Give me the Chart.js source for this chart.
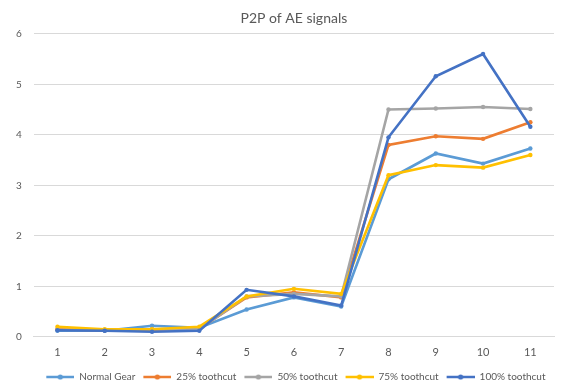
<!DOCTYPE html>
<html>
<head>
<meta charset="utf-8">
<script src="https://cdn.jsdelivr.net/npm/chart.js@4/dist/chart.umd.min.js"></script>
<style>
  html, body { margin: 0; padding: 0; background: #fff; }
  #wrap { width: 567px; height: 392px; }
</style>
</head>
<body>
<div id="wrap"><canvas id="c" width="567" height="392"></canvas></div>
<script>
// Sample index along the x axis
const categories = ['1', '2', '3', '4', '5', '6', '7', '8', '9', '10', '11'];

// Peak-to-peak AE signal values per gear condition
const normalGear = [0.12, 0.12, 0.22, 0.18, 0.54, 0.78, 0.60, 3.12, 3.63, 3.43, 3.73];
const cut25      = [0.15, 0.13, 0.14, 0.16, 0.78, 0.88, 0.78, 3.80, 3.97, 3.92, 4.25];
const cut50      = [0.14, 0.13, 0.15, 0.15, 0.80, 0.85, 0.80, 4.50, 4.52, 4.55, 4.51];
const cut75      = [0.20, 0.15, 0.15, 0.20, 0.80, 0.95, 0.85, 3.20, 3.40, 3.35, 3.60];
const cut100     = [0.13, 0.12, 0.10, 0.12, 0.93, 0.80, 0.62, 3.95, 5.16, 5.60, 4.16];

const seriesNames = ['Normal Gear', '25% toothcut', '50% toothcut', '75% toothcut', '100% toothcut'];
const yTicks = [0, 1, 2, 3, 4, 5, 6];

const colors = ['#5B9BD5', '#ED7D31', '#A5A5A5', '#FFC000', '#4472C4'];
const values = [normalGear, cut25, cut50, cut75, cut100];

// Legend swatch: short line with a dot in the middle, with a little blank lead-in
const SWATCH_W = 32, LEAD = 4;
function swatch(color) {
  const c = document.createElement('canvas');
  c.width = SWATCH_W; c.height = 8;
  const g = c.getContext('2d');
  g.strokeStyle = color; g.lineWidth = 2.5;
  g.beginPath(); g.moveTo(LEAD, 4); g.lineTo(SWATCH_W, 4); g.stroke();
  g.fillStyle = color;
  g.beginPath(); g.arc((LEAD + SWATCH_W) / 2, 4, 2.6, 0, Math.PI * 2); g.fill();
  return c;
}

const datasets = values.map((v, i) => ({
  label: seriesNames[i],
  data: v,
  borderColor: colors[i],
  backgroundColor: colors[i],
  borderWidth: 2.6,
  pointRadius: 2.2,
  pointBorderWidth: 0,
  pointStyle: 'circle',
  tension: 0,
  fill: false,
  order: values.length - 1 - i,
  legendSwatch: swatch(colors[i])
}));

const font = "Lato, 'Open Sans', 'Liberation Sans', sans-serif";

new Chart(document.getElementById('c'), {
  type: 'line',
  data: { labels: categories, datasets },
  options: {
    responsive: false,
    animation: false,
    devicePixelRatio: 1,
    layout: { padding: { left: 4, right: 13, top: 6, bottom: 0 } },
    plugins: {
      title: {
        display: true,
        fullSize: false,
        text: 'P2P of AE signals',
        color: '#595959',
        font: { family: font, size: 14, weight: 'normal' },
        padding: { top: 4, bottom: 7 }
      },
      legend: {
        position: 'bottom',
        fullSize: false,
        labels: {
          color: '#595959',
          font: { family: font, size: 10 },
          usePointStyle: true,
          pointStyleWidth: SWATCH_W,
          boxHeight: 8,
          padding: 4,
          sort: (a, b) => a.datasetIndex - b.datasetIndex,
          generateLabels: (chart) => chart.data.datasets.map((ds, i) => ({
            text: ds.label,
            fillStyle: ds.borderColor,
            strokeStyle: ds.borderColor,
            lineWidth: 0,
            pointStyle: ds.legendSwatch,
            fontColor: '#595959',
            hidden: !chart.isDatasetVisible(i),
            datasetIndex: i
          }))
        }
      },
      tooltip: { enabled: false }
    },
    scales: {
      x: {
        offset: true,
        grid: { display: false, drawTicks: false },
        border: { display: true, color: '#D9D9D9', width: 1 },
        ticks: { color: '#595959', font: { family: font, size: 11 }, padding: 9 }
      },
      y: {
        min: yTicks[0],
        max: yTicks[yTicks.length - 1],
        grid: { color: '#D9D9D9', lineWidth: 1, drawTicks: false },
        border: { display: false },
        afterBuildTicks: (axis) => { axis.ticks = yTicks.map(v => ({ value: v })); },
        ticks: { color: '#595959', font: { family: font, size: 10 }, padding: 12 }
      }
    }
  }
});
</script>
</body>
</html>
